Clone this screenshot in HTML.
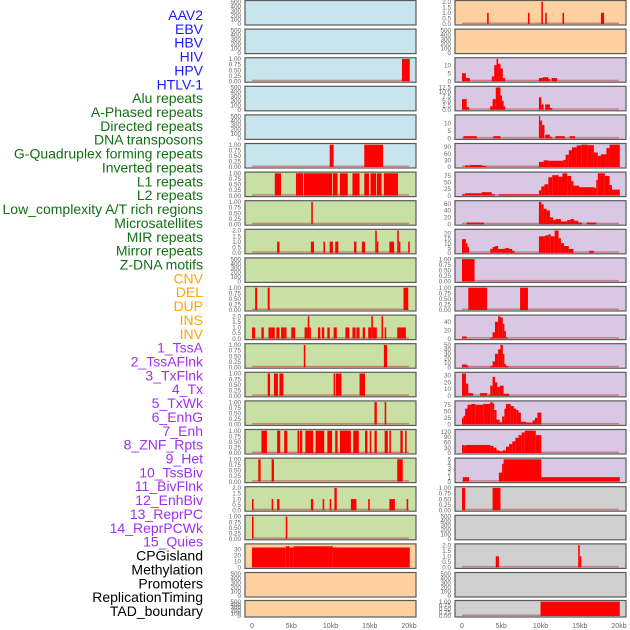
<!DOCTYPE html>
<html><head><meta charset="utf-8"><style>
body{margin:0;background:#fff;}
svg{display:block;font-family:"Liberation Sans",sans-serif;}
</style></head><body>
<svg id="c" width="630" height="630" viewBox="0 0 630 630"></svg>
<script>
const labels=["AAV2","EBV","HBV","HIV","HPV","HTLV-1","Alu repeats","A-Phased repeats","Directed repeats","DNA transposons","G-Quadruplex forming repeats","Inverted repeats","L1 repeats","L2 repeats","Low_complexity A/T rich regions","Microsatellites","MIR repeats","Mirror repeats","Z-DNA motifs","CNV","DEL","DUP","INS","INV","1_TssA","2_TssAFlnk","3_TxFlnk","4_Tx","5_TxWk","6_EnhG","7_Enh","8_ZNF_Rpts","9_Het","10_TssBiv","11_BivFlnk","12_EnhBiv","13_ReprPC","14_ReprPCWk","15_Quies","CPGisland","Methylation","Promoters","ReplicationTiming","TAD_boundary"];
const labelColors=["#1a1aff","#1a1aff","#1a1aff","#1a1aff","#1a1aff","#1a1aff","#127012","#127012","#127012","#127012","#127012","#127012","#127012","#127012","#127012","#127012","#127012","#127012","#127012","#ffa500","#ffa500","#ffa500","#ffa500","#ffa500","#a030f0","#a030f0","#a030f0","#a030f0","#a030f0","#a030f0","#a030f0","#a030f0","#a030f0","#a030f0","#a030f0","#a030f0","#a030f0","#a030f0","#a030f0","#000","#000","#000","#000","#000"];
const xTicks=[0,5,10,15,20];
const xTickLabels=["0","5kb","10kb","15kb","20kb"];
const T500=["0","100","200","300","400","500"], T1=["0.00","0.25","0.50","0.75","1.00"], T2=["0.0","0.5","1.0","1.5","2.0"];
// segments: [startKb, endKb, value]
const L1=[],L2=[],L4=[],L5=[],L10=[],L21=[],L22=[];
const L3=[[19.1,20.1,1]];
const L6=[[9.9,10.4,1],[14.3,16.7,1]];
const L7=[[2.9,3.7,1],[5.6,6.5,1],[6.6,10.2,1],[10.3,10.9,1],[11.2,12.2,1],[12.8,13.7,1],[14.3,14.9,1],[15.1,15.8,1],[15.9,16.5,1],[16.8,18.6,1]];
const L8=[[7.55,7.75,1]];
const L9=[[3.2,3.5,1],[7.5,7.9,1],[9.1,9.3,1],[9.9,10.3,1],[10.6,11,1],[13,13.3,1],[14,14.4,1],[15.7,15.9,2],[15.9,16.1,1],[17.5,18.1,1],[18.5,18.7,2],[18.7,18.9,1],[19.9,20.1,1]];
const L11=[[0.4,0.65,1],[2,2.25,1],[19.3,19.9,1]];
const L12=[[0,0.4,1],[1.2,1.5,1],[2.1,2.5,1],[2.5,2.9,1],[3.1,3.5,1],[3.7,4.1,1],[4.1,4.4,1],[5,5.5,1],[6.7,7.1,1],[7.1,7.3,2],[7.3,7.5,1],[8.4,8.7,1],[8.9,9.2,1],[9.6,9.9,1],[10.4,10.8,1],[11.9,12.4,1],[12.8,13.2,1],[13.3,13.7,1],[14.1,14.4,1],[14.8,15.2,1],[15.2,15.4,2],[15.4,15.9,1],[16.5,16.7,2],[16.9,17.1,1],[18.5,19.1,1],[19.1,19.6,1]];
const L13=[[6.6,6.8,1],[16.8,17.2,1]];
const L14=[[2.0,2.3,1],[2.8,3.3,1],[3.5,4,1],[10.4,10.6,1],[10.7,11.4,1],[13.7,14.4,1]];
const L15=[[15.6,15.9,1],[16.9,17.1,1]];
const L16=[[1.2,1.9,1],[3.2,3.6,1],[4.1,4.5,1],[5.8,6.0,1],[6.1,6.4,1],[6.8,7.8,1],[8.1,9.2,1],[9.6,10.2,1],[10.6,10.9,1],[11.2,12.6,1],[12.9,13.6,1],[14.4,14.7,1],[15.0,15.2,1],[15.6,15.9,1],[16.9,17.3,1],[17.5,17.7,1],[18.9,19.2,1],[19.5,19.7,1]];
const L17=[[0.8,1.1,1],[2.5,2.8,1],[18.5,19.2,1]];
const L18=[[0,0.2,1],[2.5,2.7,1],[3.2,3.5,1],[7.5,7.8,1],[9,9.2,1],[9.9,10.1,1],[10.5,10.8,2],[12.6,13.3,1],[14.8,15,1],[17.5,18.2,1],[19.7,19.9,1]];
const L19=[[0,0.2,1],[4.3,4.5,1]];
const L20=[[0,4.3,33],[4.3,4.8,35],[4.8,5.3,33],[5.3,10.3,35],[10.3,20.1,33]];
const R1=[[3.2,3.4,1],[8.4,8.6,1],[10.1,10.3,2],[10.6,10.8,1],[12.8,13,1],[17.7,18.1,1]];
const R2=[],R19=[],R21=[];
const R3=[[0,0.5,5],[0.5,1,2],[3.8,4.1,3],[4.1,4.4,10],[4.4,4.6,14],[4.6,4.9,11],[4.9,5.2,8],[5.2,5.5,2],[9.8,10.3,2],[10.3,11,2.5],[11,11.2,1.5],[11.4,12.1,2]];
const R4=[[0,0.6,6],[0.6,0.9,1.5],[3.6,3.9,2],[3.9,4.3,6],[4.3,4.9,12.5],[4.9,5.1,8],[5.1,5.3,5],[5.3,5.5,2],[9.8,10.1,7],[10.1,10.4,3],[10.6,11.2,3],[11.2,11.5,1]];
const R5=[[0.2,1.9,1.5],[4,4.9,1.5],[9.8,9.95,15],[9.95,10.2,12],[10.2,10.5,9],[10.6,11.2,2.5],[11.2,11.5,1],[11.9,13.1,1.5],[13.7,14.4,1.5]];
const R6=[[0.4,1,7],[1,2.6,9],[2.6,3.1,5],[9.8,10.4,23],[10.4,11,30],[11,12.9,28],[12.9,13.2,32],[13.2,13.6,55],[13.6,14,75],[14,14.6,88],[14.6,15.2,97],[15.2,16,100],[16,16.8,98],[16.8,17.3,65],[17.3,17.7,50],[17.7,18.4,57],[18.4,18.8,85],[18.8,20.1,100]];
const R7=[[0,0.4,5],[0.4,2.5,9],[2.5,3.8,13],[3.8,4.2,5],[4.7,9.8,5],[9.8,10.1,20],[10.1,10.5,35],[10.5,11,43],[11,11.5,70],[11.5,12.3,78],[12.3,12.8,72],[12.8,13.4,85],[13.4,13.9,75],[13.9,14.2,55],[14.2,14.9,38],[14.9,16.8,32],[16.8,17.1,30],[17.1,17.3,60],[17.3,18.2,85],[18.2,18.8,75],[18.8,19.1,40],[19.1,20.1,23]];
const R8=[[0.6,2.8,5],[9.8,10.1,65],[10.1,10.4,58],[10.4,10.8,45],[10.8,11.2,40],[11.2,11.6,20],[11.6,11.9,12],[11.9,12.6,15],[12.6,13.4,8],[13.4,13.8,12],[13.8,14.3,15],[14.3,14.8,10],[14.8,15.3,5],[15.9,17.1,5]];
const R9=[[0,0.5,14],[0.5,0.7,10],[0.7,0.9,6],[3.6,3.9,4],[3.9,4.2,6],[4.2,4.6,7],[4.6,5.5,4],[5.5,6,5],[6,6.4,4],[6.4,6.7,2],[9.8,10.6,17],[10.6,11,18],[11,11.3,19],[11.3,11.8,17],[11.8,12.3,23],[12.3,12.6,15],[12.6,13,10],[13,13.6,7],[13.6,14.2,4],[16.2,16.8,2]];
const R10=[[0,1.6,1]];
const R11=[[0.8,3.2,1],[7.4,8.4,1]];
const R12=[[0,0.6,5],[3.6,3.9,3],[3.9,4.2,15],[4.2,4.6,40],[4.6,4.9,53],[4.9,5.2,50],[5.2,5.4,35],[5.4,5.6,18],[5.6,5.8,3]];
const R13=[[0,0.6,6],[0.6,0.8,4],[3.6,3.9,3],[3.9,4.2,13],[4.2,4.6,30],[4.6,4.9,40],[4.9,5.2,50],[5.2,5.4,30],[5.4,5.6,7],[5.6,5.9,3]];
const R14=[[0,0.5,33],[0.5,0.8,18],[0.8,1.4,4],[2.3,3.2,4],[3.4,3.6,2],[3.6,3.9,15],[3.9,4.2,28],[4.2,4.5,20],[4.5,4.8,13],[4.8,5.3,15],[5.3,6,3]];
const R15=[[0,0.2,25],[0.2,0.4,33],[0.4,0.7,60],[0.7,1.2,75],[1.2,1.7,78],[1.7,2.7,75],[2.7,3.6,78],[3.6,3.9,85],[3.9,4.1,80],[4.1,4.4,55],[4.4,4.8,18],[4.8,5.1,8],[5.1,5.4,30],[5.4,5.6,60],[5.6,6.2,78],[6.2,6.6,70],[6.6,6.9,60],[6.9,7.2,55],[7.2,7.5,45],[7.5,8.2,10],[8.2,9,7],[9,9.3,15],[9.3,9.6,25],[9.6,10.1,45]];
const R16=[[0,0.2,45],[0.2,0.5,43],[0.5,3.6,45],[3.6,4,40],[4,4.4,30],[4.4,4.8,15],[4.8,5.2,10],[5.2,5.6,15],[5.6,6,35],[6,6.4,50],[6.4,6.8,65],[6.8,7.2,85],[7.2,7.6,100],[7.6,8,115],[8,9.4,125],[9.4,10.1,100]];
const R17=[[0.1,0.9,1],[4.7,5.1,2],[5.1,5.3,4],[5.3,10.1,5],[10.1,20.1,1]];
const R18=[[0,0.4,1],[3.9,4.9,1]];
const R20=[[4.3,4.7,1],[14.8,15,2],[15,15.2,1]];
const R22=[[10,20.1,1]];
const leftSeries=[L1,L2,L3,L4,L5,L6,L7,L8,L9,L10,L11,L12,L13,L14,L15,L16,L17,L18,L19,L20,L21,L22];
const rightSeries=[R1,R2,R3,R4,R5,R6,R7,R8,R9,R10,R11,R12,R13,R14,R15,R16,R17,R18,R19,R20,R21,R22];
const leftTicks=[T500,T500,T1,T500,T500,T1,T1,T1,T2,T500,T1,T2,T1,T1,T1,T1,T1,T2,T1,["0","10","20","30"],T500,T500];
const leftMax=[500,500,1,500,500,1,1,1,2,500,1,2,1,1,1,1,1,2,1,37,500,500];
const rightTicks=[T2,T500,["0","5","10"],["0.0","2.5","5.0","7.5","10.0","12.5"],["0","5","10"],["0","30","60","90"],["0","25","50","75"],["0","20","40","60"],["0","5","10","15","20"],T1,T1,["0","20","40"],["0","10","20","30","40","50"],["0","10","20","30"],["0","25","50","75"],["0","30","60","90","120"],["0","1","2","3","4","5"],T1,T500,T2,T500,T1];
const rightMax=[2,500,14,12.5,15,100,85,65,23,1,1,53,50,33,85,125,5,1,500,2,500,1];
const leftBg=["#c8e4ec","#c8e4ec","#c8e4ec","#c8e4ec","#c8e4ec","#c8e4ec","#c8e0a4","#c8e0a4","#c8e0a4","#c8e0a4","#c8e0a4","#c8e0a4","#c8e0a4","#c8e0a4","#c8e0a4","#c8e0a4","#c8e0a4","#c8e0a4","#c8e0a4","#ffd0a0","#ffd0a0","#ffd0a0"];
const rightBg=["#ffd0a0","#ffd0a0","#d8c8e4","#d8c8e4","#d8c8e4","#d8c8e4","#d8c8e4","#d8c8e4","#d8c8e4","#d8c8e4","#d8c8e4","#d8c8e4","#d8c8e4","#d8c8e4","#d8c8e4","#d8c8e4","#d8c8e4","#d0d0d0","#d0d0d0","#d0d0d0","#d0d0d0","#d0d0d0"];

const NS="http://www.w3.org/2000/svg";
const svg=document.getElementById('c');
function mk(tag,attrs,parent){const e=document.createElementNS(NS,tag);for(const k in attrs)e.setAttribute(k,attrs[k]);(parent||svg).appendChild(e);return e;}
const KB=7.85;
function rowGeom(i){return i<21?{top:0.5+i*28.6,h:24.5}:{top:600.5,h:16.5};}

labels.forEach((t,i)=>{
  const e=mk('text',{x:203,y:15+i*13.86+5,'text-anchor':'end','font-size':14,fill:labelColors[i]});
  e.textContent=t;
  
  
});

function panel(col,i,segs,ticks,ymax,bg){
  const x0=col?455:245, x1=col?626:416, zero=col?462:252;
  const g=rowGeom(i);
  const grp=mk('g',{});
  
  
  const r=mk('rect',{x:x0,y:g.top,width:x1-x0,height:g.h,fill:bg,stroke:'#5a5a5a','stroke-width':1.2},grp);
  
  
  const base=g.top+g.h-1, topY=g.top+1.2;
  const ys=v=>base-(v/ymax)*(base-topY);
  const xs=k=>zero+k*KB;
  ticks.forEach((t,j)=>{
    const v=parseFloat(t); const y=ys(v);
    const tt=mk('text',{x:x0-4,y:y+2.2,'text-anchor':'end','font-size':6.3,fill:'#666'},grp);
    tt.textContent=t;
    
    
  });
  if(segs.length){
    const bl=mk('rect',{x:xs(0),y:base-1.5,width:xs(20)-xs(0),height:1.5,fill:'rgba(190,50,50,0.5)'},grp);
    
    
  }
  segs.forEach(s=>{
    const y=ys(s[2]);
    const b=mk('rect',{x:xs(s[0]),y:y,width:Math.max(1.2,xs(s[1])-xs(s[0])),height:base-y,fill:'#ff0000'},grp);
    
    
  });
}
leftSeries.forEach((s,i)=>panel(0,i,s,leftTicks[i],leftMax[i],leftBg[i]));
rightSeries.forEach((s,i)=>panel(1,i,s,rightTicks[i],rightMax[i],rightBg[i]));

[252,462].forEach(z=>{
  xTicks.forEach((k,j)=>{
    const t=mk('text',{x:z+k*KB,y:628,'text-anchor':'middle','font-size':7,fill:'#666'});
    t.textContent=xTickLabels[j];
    
    
  });
});
</script>
</body></html>
